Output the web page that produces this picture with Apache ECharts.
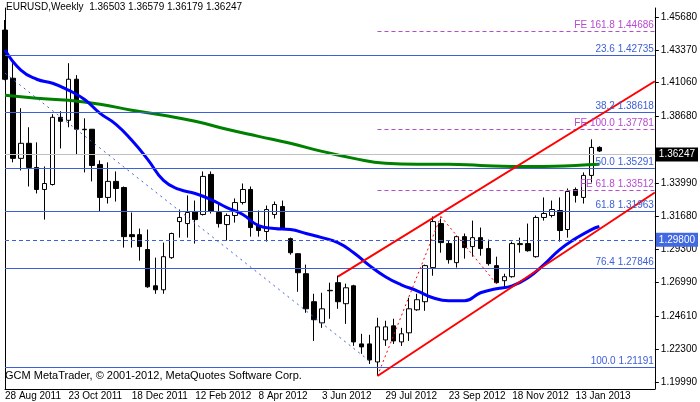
<!DOCTYPE html>
<html>
<head>
<meta charset="UTF-8">
<title>EURUSD Weekly</title>
<script src="https://cdn.jsdelivr.net/npm/echarts@6/dist/echarts.min.js"></script>
<style>html,body{margin:0;padding:0;background:#fff}</style>
</head>
<body>
<div id="main" style="width:700px;height:402px;"></div>
<script>
// weekly bars, 28 Aug 2011 .. 3 Feb 2013
var opens  = [1.4476,1.4137,1.3573,1.3679,1.3509,1.3354,1.3389,1.3862,1.3841,1.4130,1.3778,1.3778,1.3530,1.3298,1.3411,1.3368,1.3036,1.3036,1.2931,1.2676,1.2648,1.2874,1.3128,1.3114,1.3199,1.3178,1.3460,1.3192,1.3107,1.3171,1.3262,1.3354,1.3100,1.3058,1.3178,1.3234,1.3008,1.2902,1.2761,1.2564,1.2415,1.2641,1.2698,1.2550,1.2676,1.2267,1.2267,1.2140,1.2295,1.2394,1.2281,1.2345,1.2507,1.2564,1.2804,1.3114,1.2973,1.2839,1.3022,1.2952,1.3015,1.2938,1.2818,1.2712,1.2740,1.2966,1.2973,1.2881,1.3157,1.3171,1.3206,1.3072,1.3354,1.3298,1.3453,1.36503];
var highs  = [1.4547,1.4243,1.3926,1.3792,1.3686,1.3516,1.3884,1.3905,1.4243,1.4159,1.3855,1.3780,1.3559,1.3545,1.3481,1.3375,1.3192,1.3079,1.3072,1.2874,1.2980,1.3050,1.3213,1.3312,1.3276,1.3481,1.3481,1.3255,1.3185,1.3291,1.3396,1.3375,1.3206,1.3241,1.3269,1.3276,1.3015,1.2905,1.2825,1.2620,1.2627,1.2698,1.2747,1.2691,1.2683,1.2338,1.2331,1.2451,1.2430,1.2444,1.2380,1.2592,1.2620,1.2825,1.3164,1.3149,1.2994,1.3029,1.3044,1.3135,1.3086,1.3001,1.2881,1.2761,1.2987,1.3015,1.3114,1.3171,1.3298,1.3276,1.3298,1.3361,1.3368,1.3474,1.3707,1.36579];
var lows   = [1.4123,1.3545,1.3488,1.3375,1.3326,1.3142,1.3382,1.3643,1.3792,1.3601,1.3474,1.3411,1.3199,1.3255,1.3269,1.2945,1.2945,1.2853,1.2662,1.2620,1.2620,1.2866,1.3015,1.3015,1.2973,1.3171,1.3185,1.3086,1.2994,1.3121,1.3248,1.3022,1.3022,1.2987,1.3149,1.3072,1.2895,1.2634,1.2486,1.2288,1.2380,1.2444,1.2514,1.2408,1.2253,1.2197,1.2126,1.2042,1.2253,1.2267,1.2253,1.2288,1.2500,1.2500,1.2747,1.2909,1.2832,1.2804,1.2867,1.2881,1.2888,1.2818,1.2691,1.2662,1.2733,1.2909,1.2916,1.2874,1.3135,1.3157,1.2987,1.3015,1.3262,1.3255,1.3403,1.36179];
var closes = [1.4130,1.3573,1.3679,1.3509,1.3354,1.3396,1.3862,1.3834,1.4130,1.3778,1.3775,1.3523,1.3298,1.3411,1.3361,1.3022,1.3022,1.2952,1.2669,1.2648,1.2881,1.3044,1.3157,1.3192,1.3142,1.3446,1.3199,1.3114,1.3171,1.3262,1.3354,1.3086,1.3065,1.3213,1.3248,1.3079,1.2909,1.2768,1.2514,1.2437,1.2514,1.2644,1.2564,1.2662,1.2281,1.2246,1.2154,1.2387,1.2387,1.2288,1.2338,1.2514,1.2578,1.2818,1.3128,1.2980,1.2860,1.3022,1.2945,1.3015,1.2938,1.2832,1.2698,1.2740,1.2973,1.2973,1.2923,1.3157,1.3185,1.3213,1.3065,1.3340,1.3312,1.3453,1.3650,1.36247];

// moving averages at selected bars
var blueMaBars = [0,2,4,6,8,10,12,14,16,18,20,22,24,26,28,30,32,34,36,38,40,42,44,46,48,50,52,54,56,58,60,62,64,66,68,70,72,74,75];
var blueMa     = [1.4335,1.4194,1.4130,1.4102,1.4053,1.3989,1.3890,1.3813,1.3700,1.3566,1.3418,1.3354,1.3326,1.3283,1.3227,1.3178,1.3100,1.3079,1.3072,1.3044,1.3015,1.2980,1.2909,1.2818,1.2740,1.2683,1.2641,1.2592,1.2571,1.2571,1.2627,1.2655,1.2676,1.2733,1.2825,1.2931,1.3008,1.3072,1.3093];
var greenMaBars = [0,4,8,12,16,20,24,28,32,36,40,44,48,52,56,60,64,68,72,75];
var greenMa     = [1.4017,1.3996,1.3982,1.3954,1.3912,1.3876,1.3834,1.3778,1.3728,1.3679,1.3622,1.3573,1.3538,1.3531,1.3531,1.3523,1.3516,1.3516,1.3523,1.3531];

var dateLabels = ['28 Aug 2011','23 Oct 2011','18 Dec 2011','12 Feb 2012','8 Apr 2012','3 Jun 2012','29 Jul 2012','23 Sep 2012','18 Nov 2012','13 Jan 2013'];
var priceTicks = [1.4568,1.4337,1.4106,1.3868,1.3399,1.3168,1.2930,1.2699,1.2461,1.2230,1.1999];

var fibNames  = ['23.6','38.2','50.0','61.8','76.4','100.0'];
var fibLevels = [1.42735,1.38618,1.35291,1.31963,1.27846,1.21191];
var feNames   = ['161.8','100.0','61.8'];
var feLevels  = [1.44686,1.37781,1.33512];
var feStartBar = 47;

var lastPrice = 1.36247;
var alertPrice = 1.29800;

// trend lines: [bar, price]
var fibTrend = [[0,1.4173],[46,1.2147]];
var feZigzag = [[47,1.2042],[55,1.3164],[62,1.2691]];
var channelUpper = [[42,1.2740],[82,1.4116]];
var channelLower = [[47,1.2041],[82,1.3333]];

var nCats = 83;
var cats = [];
for (var i = 0; i < nCats; i++) cats.push(String(i));

var candles = opens.map(function (o, i) { return [o, closes[i], lows[i], highs[i]]; });
function sparse(bars, vals) {
  var arr = new Array(nCats).fill(null);
  bars.forEach(function (b, k) { arr[b] = vals[k]; });
  return arr;
}

var font = 'Liberation Sans';
var blue = '#3d60d8';
var violet = '#b74ad0';

var marks = [];
fibLevels.forEach(function (v, k) {
  marks.push({ yAxis: v, lineStyle: { color: blue, type: 'solid', width: 1 },
    label: { show: true, position: 'insideEndTop', distance: 1, color: blue, fontFamily: font, fontSize: 10,
      formatter: fibNames[k] + ' ' + v.toFixed(5) } });
});
feLevels.forEach(function (v, k) {
  var ls = { color: violet, type: [4, 3], width: 1, opacity: 1 };
  marks.push([{ coord: [feStartBar, v], lineStyle: ls,
    label: { show: true, position: 'insideEndTop', distance: 1, color: violet, fontFamily: font, fontSize: 10,
      formatter: 'FE ' + feNames[k] + ' ' + v.toFixed(5) } }, { coord: [nCats - 1, v], lineStyle: ls }]);
});
marks.push({ yAxis: lastPrice, lineStyle: { color: '#c0c0c0', type: 'solid', width: 1 },
  label: { show: true, position: 'end', distance: 1, color: '#fff', backgroundColor: '#000', padding: [2, 3],
    fontFamily: font, fontSize: 10, formatter: lastPrice.toFixed(5) } });
marks.push({ yAxis: alertPrice, lineStyle: { color: blue, type: [4, 3], width: 1 },
  label: { show: true, position: 'end', distance: 1, color: '#fff', backgroundColor: '#4169e1', padding: [2, 3],
    fontFamily: font, fontSize: 10, formatter: alertPrice.toFixed(5) } });
marks.push([{ coord: fibTrend[0], lineStyle: { color: blue, type: [2, 4], width: 1 }, label: { show: false } }, { coord: fibTrend[1] }]);
for (var z = 0; z < feZigzag.length - 1; z++) {
  marks.push([{ coord: feZigzag[z], lineStyle: { color: '#ff0000', type: [2, 3], width: 1 }, label: { show: false } }, { coord: feZigzag[z + 1] }]);
}
[channelUpper, channelLower].forEach(function (c) {
  marks.push([{ coord: c[0], lineStyle: { color: '#ff0000', type: 'solid', width: 2 }, label: { show: false } }, { coord: c[1] }]);
});

var chart = echarts.init(document.getElementById('main'));
chart.setOption({
  animation: false,
  backgroundColor: '#fff',
  grid: { left: 5, right: 43, top: 8, bottom: 13 },
  xAxis: {
    type: 'category', data: cats, boundaryGap: false,
    axisLine: { lineStyle: { color: '#000' } },
    axisTick: { show: false },
    splitLine: { show: false },
    axisLabel: {
      interval: function (idx) { return idx % 8 === 0 && idx / 8 < dateLabels.length; },
      formatter: function (v) { return dateLabels[Number(v) / 8] || ''; },
      align: 'left', margin: 2, color: '#000', fontFamily: font, fontSize: 10
    }
  },
  yAxis: [{
    type: 'value', position: 'right', min: 1.19495, max: 1.46315, scale: true,
    axisLine: { show: true, lineStyle: { color: '#000' } },
    axisTick: { show: true, length: 4, customValues: priceTicks, lineStyle: { color: '#000' } },
    axisLabel: { customValues: priceTicks, formatter: function (v) { return v.toFixed(5); },
      color: '#000', fontFamily: font, fontSize: 10, margin: 6 },
    splitLine: { show: false }
  }, {
    type: 'value', position: 'left', min: 1.19495, max: 1.46315,
    axisLine: { show: true, lineStyle: { color: '#000' } },
    axisTick: { show: false }, axisLabel: { show: false }, splitLine: { show: false }
  }],
  series: [{
    type: 'candlestick', data: candles, barWidth: 5,
    itemStyle: { color: '#fff', color0: '#000', borderColor: '#000', borderColor0: '#000', borderWidth: 1 },
    markLine: { symbol: 'none', silent: true, data: marks }
  }, {
    type: 'line', data: sparse(greenMaBars, greenMa), connectNulls: true, smooth: true, showSymbol: false,
    lineStyle: { color: '#008000', width: 3 }, z: 3
  }, {
    type: 'line', data: sparse(blueMaBars, blueMa), connectNulls: true, smooth: true, showSymbol: false,
    lineStyle: { color: '#0000ff', width: 3 }, z: 3
  }],
  graphic: [
    { type: 'text', left: 6, top: 2, style: { text: 'EURUSD,Weekly  1.36503 1.36579 1.36179 1.36247', fill: '#000', font: '10px "Liberation Sans"' } },
    { type: 'text', left: 5, top: 370, style: { text: 'GCM MetaTrader, \u00a9 2001-2012, MetaQuotes Software Corp.', fill: '#000', font: '11px "Liberation Sans"' } }
  ]
});
</script>
</body>
</html>
